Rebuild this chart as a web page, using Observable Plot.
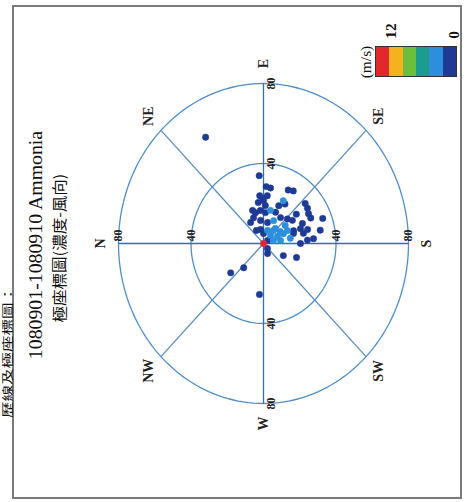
<!DOCTYPE html>
<html><head><meta charset="utf-8">
<script src="https://cdn.jsdelivr.net/npm/d3@7"></script>
<script src="https://cdn.jsdelivr.net/npm/@observablehq/plot@0.6"></script>
<style>
body{margin:0;background:#fff;}
#wrap{position:relative;width:472px;height:502px;overflow:hidden;background:#fff;font-family:"Liberation Serif","Times New Roman",serif;color:#111;}
#wrap svg{position:absolute;left:0;top:0;}
.rot{position:absolute;white-space:nowrap;line-height:1;}
</style></head><body><div id="wrap"></div>
<script>
// wind direction (deg, 0 = N, 90 = E), concentration, wind speed (m/s)
const directions = [59,86,93,98,85,90,95,82,89,117,122,117,121,139,70,67,74,84,94,103,113,144,149,154,159,82,102,116,126,137,144,77,109,130,147,154,159,160,164,168,90,134,155,156,163,167,175,176,146,165,180,229,246,209,201,312,321,275,131,143,155,141,93,114,56,59,170,171,0];
const concentrations = [62,34,28.5,28,24,21.5,24,20.7,22.5,30,31,24,23,30.5,17.6,14,16,16.6,15.5,17,17,30,29,29,35,11.6,10.7,12.7,16,18,19.7,7.2,6.9,8.5,11,14.7,17.8,21.7,25.3,32,5,5.6,8.5,12,17.3,22.6,27.7,24.3,2.7,5.7,20.4,3.3,5.5,12.5,19.5,16.3,23.3,25.6,10,15,23.7,23.3,19,20.7,12.7,7.6,15,9.5,0];
const windSpeeds = [1,1,1,1,1,1,1,1,1,1,1,3,1,1,1,1,1,1,1,3,1,1,1,1,1,1,1,3,1,1,1,1,3,3,3,3,1,1,1,1,1,3,3,3,1,1,1,1,1,3,1,1,1,1,1,1,1,1,3,3,1,1,1,1,1,1,3,3,11];
const ringValues = [40, 80];
const ringLabels = ["40", "80"];
const compassLabels = ["N","NE","E","SE","S","SW","W","NW"];
const compassAngles = [0,45,90,135,180,225,270,315];
const speedThresholds = [2,4,6,8,10];
const speedColors = ["#1f3a94","#2d8fdc","#1c9c8f","#6bbf3c","#f4b120","#e0282d"];
const legendTicks = ["12","0"];
const legendUnit = "(m/s)";
const titleText = "1080901-1080910 Ammonia";
const subtitleText = "極座標圖(濃度-風向)";
const pageText = "歷線及極座標圖：";

const rad = d => d * Math.PI / 180;
const px = (deg, r) => -r * Math.cos(rad(deg));
const py = (deg, r) => -r * Math.sin(rad(deg));

const points = directions.map((d, i) => ({dir: d, conc: concentrations[i], speed: windSpeeds[i]}))
  .sort((a, b) => a.speed - b.speed);

const ringPaths = ringValues.flatMap(r => d3.range(0, 361, 2).map(a => ({r, a})));
const spokes = compassAngles.map((a, i) => ({a, label: compassLabels[i], cardinal: a % 90 === 0}));
const tickRows = [];
for (const a of [0, 90, 180, 270]) ringValues.forEach((r, i) => tickRows.push({a, r, label: ringLabels[i]}));

const outer = ringValues[ringValues.length - 1];
const chart = Plot.plot({
  width: 472, height: 502, margin: 0,
  x: {domain: [-outer, outer], range: [118, 408], axis: null},
  y: {domain: [-outer, outer], range: [83, 403], axis: null},
  color: {type: "threshold", domain: speedThresholds, range: speedColors},
  style: {background: "transparent", fontFamily: "'Liberation Serif', serif", overflow: "visible"},
  marks: [
    Plot.line(ringPaths, {x: d => px(d.a, d.r), y: d => py(d.a, d.r), z: "r", stroke: "#4f8fc8", strokeWidth: 1.3}),
    Plot.link(spokes, {x1: 0, y1: 0, x2: d => px(d.a, outer), y2: d => py(d.a, outer),
      stroke: d => d.cardinal ? "#2f6fbf" : "#5a8fc0", strokeWidth: 1.3}),
    Plot.text(tickRows.filter(d => d.a % 180 === 0), {x: d => px(d.a, d.r), y: d => py(d.a, d.r), text: "label",
      rotate: -90, dy: -8, fontSize: 12, fontWeight: "bold", fill: "#222"}),
    Plot.text(tickRows.filter(d => d.a % 180 !== 0), {x: d => px(d.a, d.r), y: d => py(d.a, d.r), text: "label",
      rotate: -90, dx: 8, fontSize: 12, fontWeight: "bold", fill: "#222"}),
    Plot.text(spokes, {x: d => px(d.a, 90), y: d => py(d.a, 90), text: "label", rotate: -90,
      fontSize: 14, fontWeight: 600, fill: "#222"}),
    Plot.dot(points, {x: d => px(d.dir, d.conc), y: d => py(d.dir, d.conc), r: 3.2,
      fill: "speed", stroke: "speed", strokeWidth: 0.5})
  ]
});

const wrap = document.getElementById("wrap");
wrap.appendChild(chart);

function rotText(text, cx, cy, size, family, stretch) {
  const el = document.createElement("div");
  el.className = "rot";
  el.textContent = text;
  el.style.left = cx + "px"; el.style.top = cy + "px";
  el.style.fontSize = size + "px";
  el.style.fontFamily = family;
  el.style.transform = `translate(-50%,-50%) rotate(-90deg) scaleX(${stretch})`;
  wrap.appendChild(el);
  return el;
}

// frame border
const border = document.createElement("div");
Object.assign(border.style, {position: "absolute", left: "12px", top: "5px", width: "450px", height: "494px",
  border: "2px solid #7a7a7a", boxSizing: "border-box"});
wrap.appendChild(border);

// page text at the left edge
const pt = document.createElement("div");
pt.className = "rot";
pt.textContent = pageText;
Object.assign(pt.style, {left: "7px", top: "330px", fontSize: "11px", fontFamily: "'Noto Sans CJK TC', sans-serif",
  transformOrigin: "0 0", transform: "rotate(-90deg) translate(-100%,-50%) scaleX(1.5)"});
wrap.appendChild(pt);

rotText(titleText, 36, 245, 18, "'Liberation Serif', serif", 1.1);
rotText(subtitleText, 58, 248, 15, "'Noto Sans CJK TC', sans-serif", 1.1);

// legend
const lg = document.createElement("div");
Object.assign(lg.style, {position: "absolute", left: "375px", top: "46px", width: "82px", height: "31px",
  display: "flex", border: "1px solid #333", boxSizing: "border-box"});
speedColors.slice().reverse().forEach(c => {
  const cell = document.createElement("div");
  Object.assign(cell.style, {flex: "1", background: c});
  lg.appendChild(cell);
});
wrap.appendChild(lg);
rotText(legendUnit, 367, 62, 14, "'Liberation Serif', serif", 1.1);
rotText(legendTicks[0], 392, 31, 14, "'Liberation Serif', serif", 1.1).style.fontWeight = "bold";
rotText(legendTicks[1], 455, 35, 14, "'Liberation Serif', serif", 1.1).style.fontWeight = "bold";
</script></body></html>
